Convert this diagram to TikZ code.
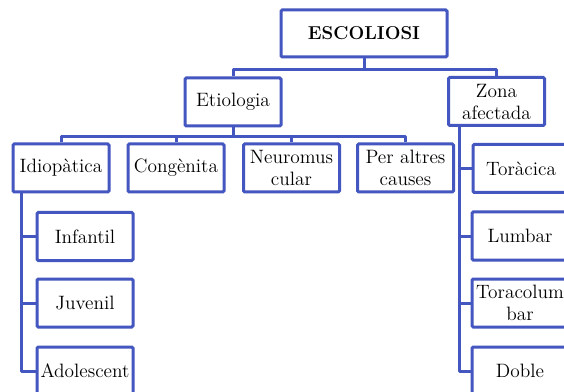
\documentclass[tikz,border=0pt]{standalone}
\usepackage{fontspec}
\usetikzlibrary{calc}
\definecolor{smartblue}{RGB}{68,86,192}
\begin{document}
\begin{tikzpicture}[x=0.75pt,y=-0.75pt,
  box/.style={draw=smartblue, line width=2.25pt, fill=white, rounded corners=1pt,
    minimum width=72pt, minimum height=36pt, inner sep=0pt, align=center,
    font=\fontsize{14.5}{16.5}\selectfont, text=black},
  rootbox/.style={box, minimum width=124.5pt, minimum height=35.25pt,
    font=\fontsize{14}{16.5}\selectfont\bfseries},
  conn/.style={draw=smartblue, line width=2.25pt, line join=round}]
\clip (0,0) rectangle (564,392);
\fill[white] (0,0) rectangle (564,392);

% root
\node[rootbox] (esc) at (364,33.5) {ESCOLIOSI};

% second level
\node[box] (eti)  at (233,102) {Etiologia};
\node[box] (zona) at (496.5,101.5) {Zona\\afectada};

% causes
\node[box] (idio)  at (61,168)    {Idiopàtica};
\node[box] (cong)  at (176,168)   {Congènita};
\node[box] (neuro) at (291.5,168) {Neuromus\\cular};
\node[box] (per)   at (405.5,168) {Per altres\\causes};

% idiopathic onset
\node[box] (inf) at (85,236.5) {Infantil};
\node[box] (juv) at (85,303)   {Juvenil};
\node[box] (ado) at (85,371)   {Adolescent};

% affected region
\node[box] (tor)  at (521,168.5) {Toràcica};
\node[box] (lum)  at (520,236)   {Lumbar};
\node[box] (tlum) at (520,303)   {Toracolum\\bar};
\node[box] (dob)  at (520,371)   {Doble};

% root to second level
\draw[conn] (esc.south) -- ++(0,11) coordinate (j0);
\draw[conn] (eti.north) |- (j0) -| (zona.north);

% etiology to causes
\draw[conn] (eti.south) -- ++(0,9) coordinate (j1);
\draw[conn] (idio.north) |- (j1) -| (per.north);
\draw[conn] (cong.north) -- (cong.north |- j1);
\draw[conn] (neuro.north) -- (neuro.north |- j1);

% idiopathic branch
\coordinate (ti) at ($(idio.south west)+(10,0)$);
\draw[conn] (ti) |- (inf.west);
\draw[conn] (ti) |- (juv.west);
\draw[conn] (ti) |- (ado.west);

% affected-region branch
\coordinate (tz) at ($(zona.south west)+(12,0)$);
\draw[conn] (tz) |- (tor.west);
\draw[conn] (tz) |- (lum.west);
\draw[conn] (tz) |- (tlum.west);
\draw[conn] (tz) |- (dob.west);
\end{tikzpicture}
\end{document}
